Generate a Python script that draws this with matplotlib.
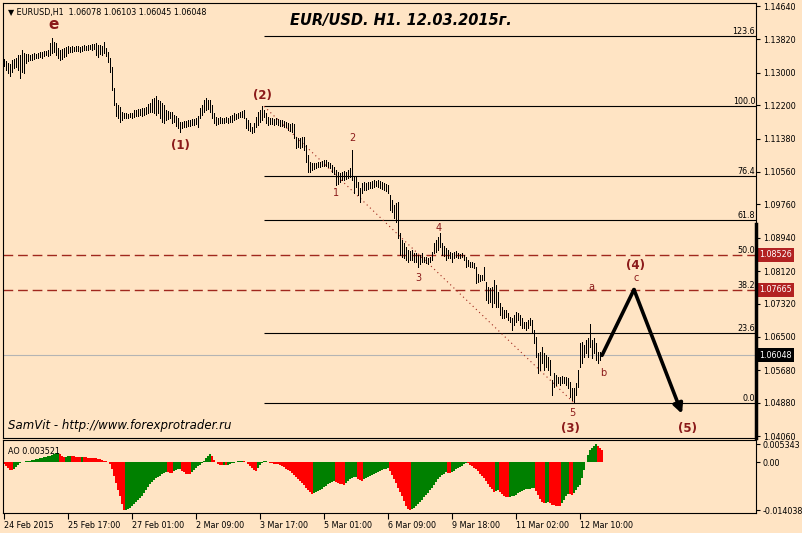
import matplotlib
matplotlib.use("Agg")
import matplotlib.pyplot as plt
import matplotlib.transforms as mtransforms
import numpy as np

plt.rcParams["font.family"] = ["DejaVu Sans"]

BG = "#ffe4c4"
WAVE = "#8b1a1a"
FIB_RED = "#a0281e"

# ── data ──────────────────────────────────────────────────────────────
symbol = "EURUSD,H1"
last_ohlc = [1.06078, 1.06103, 1.06045, 1.06048]
title = "EUR/USD. H1. 12.03.2015г."
signature = "SamVit - http://www.forexprotrader.ru"

# hourly bars, price * 1e4
high_pips = [
    11334, 11329, 11324, 11322, 11331, 11334, 11336, 11344, 11344, 11356,
    11349, 11346, 11346, 11344, 11346, 11349, 11346, 11349, 11351, 11351,
    11353, 11353, 11356, 11373, 11386, 11376, 11373, 11361, 11356, 11358,
    11361, 11363, 11366, 11363, 11366, 11363, 11366, 11366, 11363, 11366,
    11368, 11366, 11368, 11368, 11371, 11371, 11373, 11368, 11368, 11366,
    11376, 11361, 11351, 11336, 11314, 11262, 11226, 11221, 11216, 11203,
    11201, 11201, 11199, 11201, 11201, 11208, 11208, 11211, 11211, 11213,
    11213, 11216, 11223, 11226, 11235, 11238, 11243, 11233, 11230, 11226,
    11221, 11208, 11206, 11203, 11203, 11196, 11194, 11189, 11179, 11179,
    11181, 11181, 11184, 11184, 11186, 11186, 11189, 11194, 11213, 11221,
    11233, 11238, 11233, 11233, 11221, 11201, 11191, 11189, 11191, 11189,
    11189, 11191, 11189, 11194, 11196, 11201, 11199, 11201, 11203, 11206,
    11208, 11189, 11184, 11176, 11167, 11176, 11191, 11203, 11208, 11217,
    11208, 11201, 11191, 11189, 11189, 11186, 11189, 11186, 11184, 11184,
    11181, 11179, 11176, 11174, 11176, 11174, 11142, 11140, 11140, 11142,
    11142, 11122, 11098, 11080, 11078, 11078, 11078, 11080, 11080, 11083,
    11085, 11085, 11080, 11078, 11073, 11068, 11061, 11056, 11053, 11056,
    11058, 11056, 11061, 11066, 11110, 11044, 11046, 11031, 11016, 11029,
    11031, 11029, 11031, 11031, 11034, 11036, 11034, 11036, 11034, 11031,
    11029, 11026, 11024, 10999, 10987, 10975, 10980, 10982, 10906, 10889,
    10881, 10871, 10864, 10862, 10864, 10857, 10857, 10852, 10852, 10857,
    10847, 10847, 10844, 10847, 10859, 10881, 10889, 10896, 10906, 10881,
    10874, 10869, 10864, 10859, 10857, 10859, 10862, 10857, 10854, 10857,
    10852, 10847, 10839, 10835, 10835, 10832, 10822, 10805, 10803, 10803,
    10822, 10785, 10773, 10771, 10773, 10790, 10778, 10761, 10734, 10724,
    10716, 10716, 10709, 10699, 10697, 10704, 10712, 10709, 10704, 10697,
    10687, 10687, 10692, 10697, 10692, 10667, 10650, 10611, 10613, 10625,
    10611, 10606, 10601, 10593, 10544, 10561, 10557, 10552, 10552, 10554,
    10552, 10552, 10549, 10539, 10525, 10525, 10537, 10569, 10635, 10638,
    10630, 10643, 10648, 10682, 10643, 10648, 10635, 10613, 10613, 10610,
]
low_pips = [
    11317, 11307, 11299, 11292, 11302, 11312, 11314, 11307, 11287, 11302,
    11299, 11324, 11329, 11331, 11331, 11334, 11336, 11336, 11339, 11336,
    11341, 11344, 11341, 11344, 11349, 11351, 11344, 11336, 11331, 11334,
    11339, 11341, 11349, 11351, 11351, 11353, 11353, 11353, 11351, 11353,
    11356, 11356, 11356, 11358, 11356, 11358, 11344, 11339, 11346, 11344,
    11349, 11341, 11326, 11302, 11258, 11221, 11194, 11189, 11179, 11184,
    11189, 11189, 11189, 11191, 11189, 11191, 11194, 11194, 11196, 11194,
    11196, 11199, 11201, 11203, 11203, 11201, 11196, 11201, 11189, 11179,
    11176, 11184, 11186, 11189, 11176, 11179, 11169, 11164, 11154, 11164,
    11167, 11167, 11169, 11169, 11171, 11171, 11174, 11167, 11189, 11196,
    11203, 11208, 11211, 11203, 11189, 11176, 11171, 11174, 11176, 11176,
    11176, 11179, 11176, 11179, 11179, 11184, 11186, 11189, 11191, 11191,
    11189, 11164, 11159, 11157, 11152, 11154, 11167, 11171, 11179, 11184,
    11191, 11176, 11171, 11174, 11174, 11171, 11174, 11171, 11169, 11169,
    11167, 11167, 11159, 11157, 11154, 11140, 11115, 11117, 11115, 11117,
    11110, 11080, 11056, 11056, 11061, 11063, 11066, 11068, 11068, 11071,
    11071, 11071, 11068, 11066, 11056, 11051, 11024, 11026, 11031, 11036,
    11036, 11039, 11041, 11044, 11036, 11004, 11019, 10999, 10982, 11004,
    11012, 11012, 11014, 11016, 11016, 11019, 11021, 11019, 11016, 11014,
    11012, 11009, 11004, 10962, 10958, 10943, 10933, 10894, 10852, 10847,
    10844, 10839, 10835, 10839, 10839, 10835, 10835, 10822, 10830, 10835,
    10835, 10832, 10830, 10835, 10839, 10857, 10859, 10864, 10871, 10852,
    10849, 10839, 10844, 10844, 10835, 10844, 10847, 10844, 10844, 10847,
    10839, 10822, 10825, 10822, 10822, 10820, 10783, 10785, 10788, 10790,
    10790, 10741, 10734, 10736, 10724, 10734, 10724, 10724, 10704, 10697,
    10697, 10699, 10692, 10687, 10667, 10680, 10687, 10692, 10680, 10672,
    10672, 10667, 10672, 10680, 10660, 10635, 10601, 10561, 10569, 10586,
    10569, 10576, 10569, 10557, 10507, 10527, 10532, 10537, 10532, 10537,
    10537, 10532, 10525, 10502, 10495, 10488, 10507, 10527, 10576, 10586,
    10601, 10611, 10601, 10625, 10598, 10611, 10593, 10586, 10593, 10605,
]
# Awesome Oscillator, value * 1e3
ao_milli = [
    -0.6, -1.2, -1.7, -2.1, -2.2, -1.8, -1.3, -0.8, -0.3, 0.0,
    0.2, 0.3, 0.4, 0.5, 0.7, 0.8, 1.0, 1.1, 1.25, 1.4,
    1.5, 1.7, 1.85, 2.0, 2.3, 2.6, 2.8, 2.9, 2.4, 1.9,
    1.6, 1.7, 1.8, 1.85, 1.8, 1.75, 1.7, 1.6, 1.5, 1.55,
    1.5, 1.45, 1.4, 1.35, 1.3, 1.3, 1.25, 1.1, 0.9, 0.7,
    0.5, 0.3, 0.1, -0.5, -2.0, -4.0, -6.0, -8.0, -10.0, -12.3,
    -14.0, -13.9, -13.7, -13.3, -12.9, -12.3, -11.7, -11.0, -10.4, -9.8,
    -9.0, -8.2, -7.3, -6.5, -5.7, -5.1, -4.6, -4.2, -3.9, -3.5,
    -3.1, -2.7, -2.9, -3.1, -3.2, -2.5, -2.2, -2.0, -1.9, -2.4,
    -2.9, -3.3, -3.4, -3.5, -2.9, -2.3, -1.6, -1.1, -0.7, -0.2,
    0.4, 1.2, 2.0, 2.6, 1.9, 0.8, 0.2, -0.4, -0.8, -0.9,
    -0.8, -0.9, -0.7, -0.5, -0.3, -0.1, 0.1, 0.3, 0.4, 0.5,
    0.4, 0.1, -0.4, -1.0, -1.6, -2.1, -2.4, -1.6, -0.8, -0.2,
    0.3, 0.4, 0.1, -0.2, -0.3, -0.4, -0.5, -0.6, -0.7, -1.0,
    -1.4, -1.8, -2.2, -2.6, -3.1, -3.6, -4.3, -4.9, -5.5, -6.1,
    -6.8, -7.5, -8.2, -8.8, -9.2, -9.0, -8.7, -8.4, -8.1, -7.7,
    -7.3, -6.9, -6.5, -6.1, -5.8, -5.6, -5.9, -6.2, -6.4, -6.5,
    -6.6, -6.2, -5.6, -5.0, -4.6, -4.4, -4.3, -4.8, -5.3, -5.5,
    -5.0, -4.6, -4.2, -3.9, -3.6, -3.4, -3.1, -2.8, -2.5, -2.2,
    -2.0, -1.8, -1.7, -2.4, -3.6, -4.8, -6.1, -7.4, -8.6, -10.0,
    -11.4, -12.8, -13.6, -14.04, -13.8, -13.3, -12.8, -12.2, -11.6, -11.0,
    -10.3, -9.6, -8.9, -8.2, -7.5, -6.6, -5.7, -5.0, -4.4, -3.8,
    -3.3, -2.9, -3.0, -3.1, -2.8, -2.4, -2.0, -1.7, -1.4, -1.0,
    -0.5, -0.1, -0.3, -0.7, -1.1, -1.5, -1.9, -2.6, -3.3, -4.0,
    -4.7, -5.5, -6.3, -7.1, -7.9, -8.6, -8.3, -8.1, -8.7, -9.3,
    -9.8, -10.1, -10.2, -10.1, -10.0, -9.8, -9.5, -9.1, -8.7, -8.3,
    -8.1, -7.9, -7.8, -7.7, -7.6, -7.55, -8.5, -9.6, -10.7, -11.6,
    -12.1, -11.9, -11.8, -12.1, -12.4, -12.6, -12.7, -12.75, -12.8, -12.0,
    -11.0, -10.0, -9.2, -9.4, -9.7, -9.0, -8.0, -7.3, -6.6, -4.6,
    -2.3, 0.0, 2.2, 3.6, 4.3, 4.8, 5.343, 4.7, 4.2, 3.521,
]
ao_last = 0.003521

time_ticks = [0, 32, 64, 96, 128, 160, 192, 224, 256, 288]
time_labels = ["24 Feb 2015", "25 Feb 17:00", "27 Feb 01:00", "2 Mar 09:00",
               "3 Mar 17:00", "5 Mar 01:00", "6 Mar 09:00", "9 Mar 18:00",
               "11 Mar 02:00", "12 Mar 10:00"]
price_ticks = [1.14640, 1.13820, 1.13000, 1.12200, 1.11380, 1.10560, 1.09760,
               1.08940, 1.08120, 1.07320, 1.06500, 1.05680, 1.04880, 1.04060]
ao_ticks = [0.005343, 0.0, -0.014038]
ao_tick_labels = ["0.005343", "0.00", "-0.014038"]

# Fibonacci retracement (2) top -> wave 5 bottom
fib_start = 130
fib_high = 1.121743
fib_low = 1.048777
fib_levels = [0.0, 23.6, 38.2, 50.0, 61.8, 76.4, 100.0, 123.6]
dashed_levels = [50.0, 38.2]
trend_bars = [130, 285]
trend_prices = [fib_high, fib_low]

major_waves = [("e", 25, 1.1419), ("(1)", 88, 1.1122), ("(2)", 129, 1.1245),
               ("(3)", 283, 1.0424), ("(4)", 316, 1.0827), ("(5)", 342, 1.0424)]
minor_waves = [("1", 166, 1.1004), ("2", 174, 1.1140), ("3", 207, 1.0795),
               ("4", 217.5, 1.0918), ("5", 284, 1.0463), ("a", 293.5, 1.0773),
               ("b", 299.5, 1.0561), ("c", 316, 1.0795)]
forecast_bars = [299, 315, 339]
forecast_prices = [1.06048, 1.07665, 1.0461]

# ── figure ────────────────────────────────────────────────────────────
W, H = 802, 533
fig = plt.figure(figsize=(W / 100, H / 100), dpi=100, facecolor=BG)


def px_rect(x0, y0, x1, y1):
    return [x0 / W, 1 - y1 / H, (x1 - x0) / W, (y1 - y0) / H]


ax = fig.add_axes(px_rect(3, 3, 756, 438), facecolor=BG)
ax_ao = fig.add_axes(px_rect(3, 440, 756, 513), facecolor=BG, sharex=ax)

highs = np.array(high_pips) / 1e4
lows = np.array(low_pips) / 1e4
idx = np.arange(len(highs))
xmax = 376

fib_price = {lv: fib_low + lv / 100 * (fib_high - fib_low) for lv in fib_levels}
tag_tf = mtransforms.blended_transform_factory(ax.transAxes, ax.transData)

# current price line
ax.axhline(last_ohlc[3], color="#b4b4b4", lw=0.8, zorder=1)

# fib lines
for lv in fib_levels:
    p = fib_price[lv]
    if lv in dashed_levels:
        ax.axhline(p, color=FIB_RED, lw=1.0, ls=(0, (7, 3.5)), zorder=1)
    else:
        ax.hlines(p, fib_start, xmax, color="black", lw=0.8, zorder=1)
    ax.text(0.999, p, f"{lv:.1f}", transform=tag_tf, ha="right", va="bottom",
            fontsize=5.8)

ax.plot(trend_bars, trend_prices, color=FIB_RED, lw=0.8, ls=(0, (1, 3)), zorder=1)

# price bars
ax.vlines(idx, lows, highs, color="black", lw=0.6, antialiased=False, zorder=3)

# forecast arrow
ax.plot(forecast_bars[:2], forecast_prices[:2], color="black", lw=2.6,
        solid_capstyle="round", zorder=4)
ax.annotate("", xy=(forecast_bars[2], forecast_prices[2]),
            xytext=(forecast_bars[1], forecast_prices[1]),
            arrowprops=dict(arrowstyle="-|>", color="black", lw=2.6,
                            mutation_scale=14, shrinkA=0, shrinkB=0), zorder=4)

for txt, x, y in major_waves:
    ax.text(x, y, txt, color=WAVE, fontsize=11 if txt == "e" else 8.5,
            fontweight="bold", ha="center", va="center")
for txt, x, y in minor_waves:
    ax.text(x, y, txt, color=WAVE, fontsize=7, ha="center", va="center")

ax.set_xlim(-0.5, xmax)
ax.set_ylim(1.04014, 1.14716)
ax.yaxis.tick_right()
ax.set_yticks(price_ticks, [f"{p:.5f}" for p in price_ticks])
ax.tick_params(axis="y", length=3, width=0.8, labelsize=5.8, pad=2)
ax.tick_params(axis="x", bottom=False, labelbottom=False)
for s in ax.spines.values():
    s.set_linewidth(0.8)
ax.plot([1, 1], [0, 0.492], transform=ax.transAxes, color="black", lw=2.5,
        clip_on=False, zorder=5)

# price tags on the right
for lv in dashed_levels:
    ax.text(1.004, fib_price[lv], f"{fib_price[lv]:.5f}", transform=tag_tf,
            ha="left", va="center", fontsize=5.8, color="white",
            bbox=dict(boxstyle="square,pad=0.3", fc="#b22222", ec="none"))
ax.text(1.004, last_ohlc[3], f"{last_ohlc[3]:.5f}", transform=tag_tf,
        ha="left", va="center", fontsize=5.8, color="white",
        bbox=dict(boxstyle="square,pad=0.3", fc="black", ec="none"))

# AO panel
ao = np.array(ao_milli) / 1e3
colors = ["#ff0000"] + ["#008000" if ao[i] > ao[i - 1] else "#ff0000"
                        for i in range(1, len(ao))]
ax_ao.bar(idx, ao, width=1.0, color=colors, linewidth=0, antialiased=False)
ax_ao.set_ylim(-0.0149, 0.0066)
ax_ao.yaxis.tick_right()
ax_ao.set_yticks(ao_ticks, ao_tick_labels)
ax_ao.tick_params(axis="y", length=3, width=0.8, labelsize=5.8, pad=2)
ax_ao.set_xticks(time_ticks, time_labels)
ax_ao.tick_params(axis="x", length=4, width=0.8, labelsize=5.8, pad=2)
for lbl in ax_ao.get_xticklabels():
    lbl.set_horizontalalignment("left")
for s in ax_ao.spines.values():
    s.set_linewidth(0.8)

# texts
fig.text(8 / W, 1 - 12 / H, f"\u25bc {symbol}  " + " ".join(f"{v:.5f}" for v in last_ohlc),
         fontsize=5.8, va="center", ha="left")
fig.text(401 / W, 1 - 21 / H, title, fontsize=10.5, fontweight="bold",
         style="italic", ha="center", va="center")
fig.text(8 / W, 1 - 426 / H, signature, fontsize=8.5, style="italic",
         ha="left", va="center")
fig.text(8 / W, 1 - 451 / H, f"AO {ao_last:.6f}", fontsize=5.8, ha="left", va="center")

fig.savefig("out.png", dpi=100, facecolor=BG)
